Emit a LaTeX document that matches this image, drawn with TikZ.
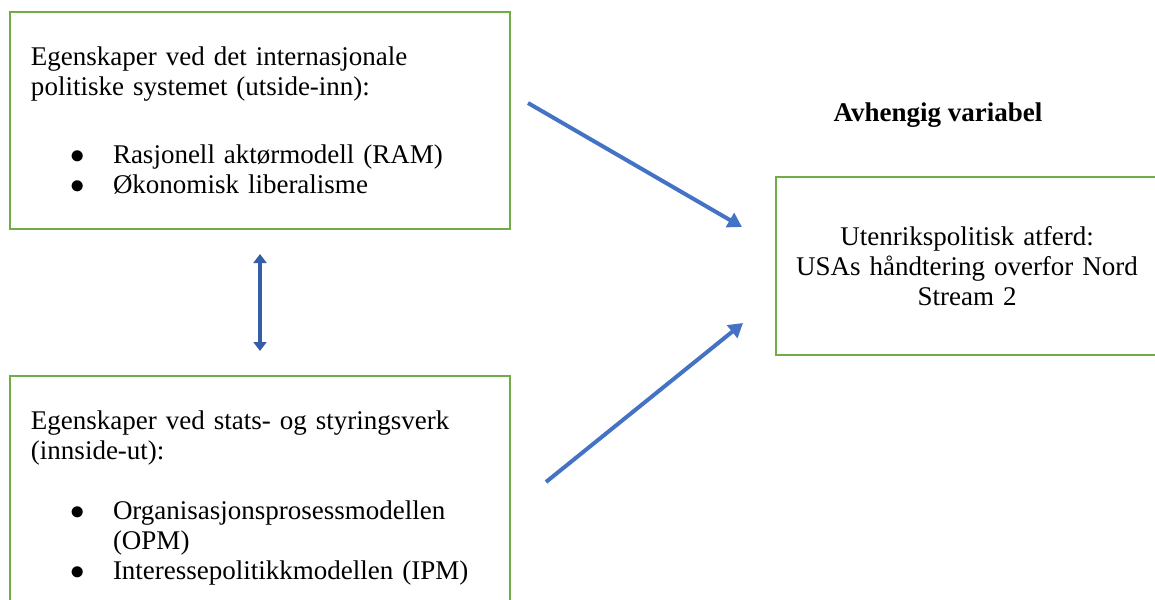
\documentclass[tikz,border=0pt]{standalone}
\usepackage{fontspec}
\setmainfont{Liberation Serif}
\usetikzlibrary{positioning}
\usetikzlibrary{arrows.meta}

\definecolor{boxgreen}{RGB}{112,173,71}
\definecolor{arrowblue}{RGB}{68,114,196}
\definecolor{darkblue}{RGB}{52,94,168}

\newcommand{\punkt}[1]{\par\hangindent=41pt\hangafter=1\noindent\hspace*{20pt}\makebox[21pt][l]{$\bullet$}#1}

\begin{document}
\begin{tikzpicture}[x=0.5pt, y=-0.5pt,
    modelbox/.style={draw=boxgreen, line width=1pt, anchor=north west, inner xsep=10.5pt,
      font=\fontsize{13.5}{15}\selectfont},
    influence/.style={-{Triangle[length=7pt, width=8pt]}, line width=2pt, draw=arrowblue},
    updown/.style={{Triangle[length=4.5pt, width=6.5pt]}-{Triangle[length=4.5pt, width=6.5pt]}, line width=1.8pt, draw=darkblue, shorten >=12pt, shorten <=12pt}]

  \clip (0,0) rectangle (1155,599);

  \node[modelbox, minimum width=250pt, minimum height=108.5pt, text width=229pt, align=left] (sys) at (9,11)
    {Egenskaper ved det internasjonale\\politiske systemet (utside-inn):\\[19pt]
     \punkt{Rasjonell aktørmodell (RAM)}
     \punkt{Økonomisk liberalisme}};

  \node[modelbox, minimum width=250pt, minimum height=122pt, text width=229pt, align=left] (stat) at (9,375)
    {Egenskaper ved stats- og styringsverk\\(innside-ut):\\[15pt]
     \punkt{Organisasjonsprosessmodellen\hfil\break(OPM)}
     \punkt{Interessepolitikkmodellen (IPM)}};

  \node[modelbox, minimum width=191pt, minimum height=89pt, text width=185pt, inner xsep=3pt, align=center] (atferd) at (775,176)
    {Utenrikspolitisk atferd:\\USAs håndtering overfor Nord\\Stream 2};

  \node[font=\fontsize{13.5}{15}\selectfont\bfseries] (avh) at (938,115) {Avhengig variabel};

  % piler inn mot avhengig variabel
  \coordinate (s1) at (528,103);
  \coordinate (e1) at (742,227);
  \coordinate (s2) at (546,482);
  \coordinate (e2) at (743,323);

  \draw[influence] (s1) -- (e1);
  \draw[influence] (s2) -- (e2);
  \draw[updown] (sys.south) -- (stat.north);

\end{tikzpicture}
\end{document}
